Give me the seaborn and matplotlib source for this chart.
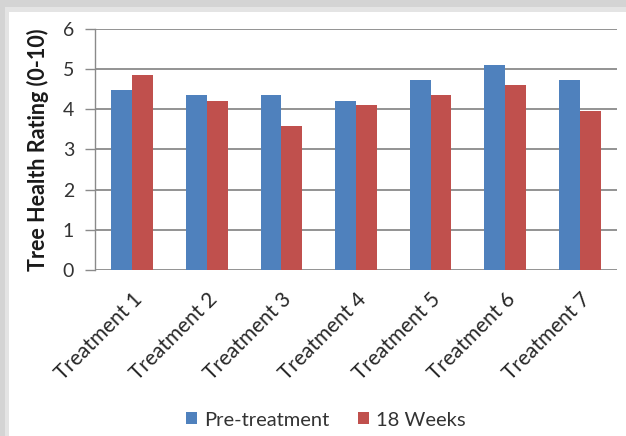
import matplotlib
matplotlib.use("Agg")
import matplotlib.pyplot as plt
from matplotlib.patches import Rectangle
import seaborn as sns
import pandas as pd

# Tree health ratings per treatment, before treatment and after 18 weeks
treatments = ["Treatment 1", "Treatment 2", "Treatment 3", "Treatment 4",
              "Treatment 5", "Treatment 6", "Treatment 7"]
pre_treatment = [4.47, 4.36, 4.36, 4.21, 4.72, 5.10, 4.72]
weeks_18 = [4.86, 4.21, 3.59, 4.10, 4.35, 4.60, 3.97]
series_names = ["Pre-treatment", "18 Weeks"]
y_ticks = [0, 1, 2, 3, 4, 5, 6]

df = pd.DataFrame({
    "Treatment": treatments * 2,
    "Rating": pre_treatment + weeks_18,
    "Series": [series_names[0]] * len(treatments) + [series_names[1]] * len(treatments),
})

sns.set_theme(style="white")
plt.rcParams["font.family"] = ["Lato", "DejaVu Sans"]

W, H = 626, 436
fig = plt.figure(figsize=(W / 100, H / 100), dpi=100)
fig.patch.set_facecolor("#d4d4d4")

# light shadow band and white chart panel behind the axes
fig.patches.append(Rectangle((5 / W, 0), 1, 1 - 7 / H, transform=fig.transFigure,
                             facecolor="#e4e4e4", edgecolor="none", zorder=-2))
fig.patches.append(Rectangle((9 / W, 0), 1, 1 - 12 / H, transform=fig.transFigure,
                             facecolor="white", edgecolor="none", zorder=-1))

ax = fig.add_axes([95 / W, 1 - 270 / H, (617 - 95) / W, (270 - 29) / H])
ax.set_facecolor("none")
ax.set_zorder(1)

palette = {"Pre-treatment": "#4f81bd", "18 Weeks": "#c0504d"}
sns.barplot(data=df, x="Treatment", y="Rating", hue="Series", palette=palette,
            width=0.56, saturation=1, ax=ax, zorder=3, legend=True,
            linewidth=0, edgecolor="none")

ax.set_ylim(0, 6)
ax.set_xlim(-0.5, 6.5)
ax.set_yticks(y_ticks)
ax.set_yticklabels([str(t) for t in y_ticks], fontsize=14, color="#333333")
ax.yaxis.grid(True, color="#8a8a8a", linewidth=1.3, zorder=0)
ax.set_axisbelow(True)

for side in ["top", "right", "bottom"]:
    ax.spines[side].set_visible(False)
ax.spines["left"].set_color("#8a8a8a")
ax.spines["left"].set_linewidth(1.0)
ax.tick_params(axis="y", which="major", left=True, length=7, width=1.0,
               color="#8a8a8a", pad=8)
ax.tick_params(axis="x", bottom=False, pad=8)

ax.set_xticks(range(len(treatments)))
ax.set_xticklabels(treatments, rotation=45, ha="right", rotation_mode="anchor",
                   fontsize=15, color="#262626")

ax.set_xlabel("")
ax.set_ylabel("Tree Health Rating (0-10)", fontsize=15.5, fontweight="bold",
              color="#1a1a1a", labelpad=10)

handles, labels = ax.get_legend_handles_labels()
ax.legend_.remove()
fig.legend(handles, labels, loc="center", bbox_to_anchor=(326 / W, 1 - 420 / H),
           ncol=2, frameon=False, fontsize=14.5, handlelength=0.55, handleheight=0.55,
           handletextpad=0.35, columnspacing=1.4, labelcolor="#333333")

fig.savefig("out.png", dpi=100, facecolor=fig.get_facecolor())
